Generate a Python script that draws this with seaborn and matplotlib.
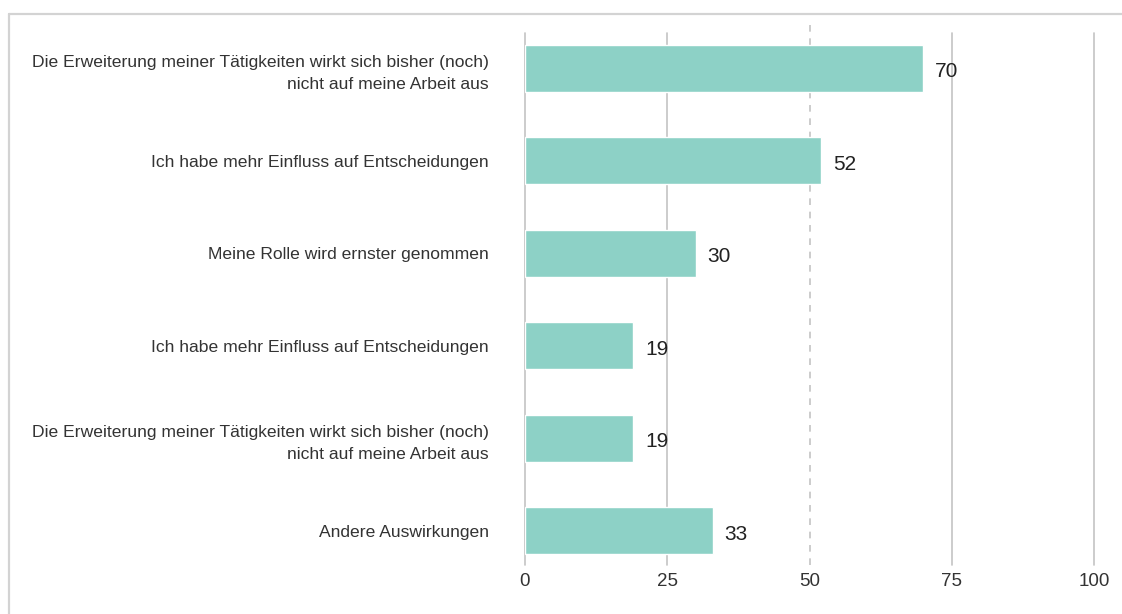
import matplotlib
matplotlib.use("Agg")
import matplotlib.pyplot as plt
import matplotlib.transforms as mtransforms
from matplotlib.lines import Line2D
import seaborn as sns
import pandas as pd

categories = [
    "Die Erweiterung meiner Tätigkeiten wirkt sich bisher (noch)\nnicht auf meine Arbeit aus",
    "Ich habe mehr Einfluss auf Entscheidungen",
    "Meine Rolle wird ernster genommen",
    "Ich habe mehr Einfluss auf Entscheidungen",
    "Die Erweiterung meiner Tätigkeiten wirkt sich bisher (noch)\nnicht auf meine Arbeit aus",
    "Andere Auswirkungen",
]
values = [70, 52, 30, 19, 19, 33]
xticks = [0, 25, 50, 75, 100]

sns.set_theme(style="white")
plt.rcParams["font.family"] = ["Liberation Sans", "DejaVu Sans"]

df = pd.DataFrame({"pos": [str(i) for i in range(len(values))], "value": values})

fig = plt.figure(figsize=(11.22, 6.14), dpi=100)
ax = fig.add_axes([525 / 1122, 1 - 565 / 614, 569 / 1122, 532 / 614])

sns.barplot(data=df, x="value", y="pos", orient="h", color="#8dd1c6",
            saturation=1, width=0.51, ax=ax, zorder=3)

ax.set_xlim(0, 100)
ax.set_ylim(5.37, -0.38)
ax.set_xticks(xticks)
ax.set_xticklabels([str(t) for t in xticks], fontsize=13.5, color="#333333")
ax.set_yticks(range(len(categories)))
ax.set_yticklabels(categories, fontsize=12.6, color="#333333", linespacing=1.6)
ax.tick_params(axis="x", length=0, pad=6)
ax.tick_params(axis="y", length=0, pad=26)
ax.set_xlabel("")
ax.set_ylabel("")
for s in ax.spines.values():
    s.set_visible(False)
ax.grid(False)

trans = mtransforms.blended_transform_factory(ax.transData, ax.transAxes)
for t in xticks:
    if t == 50:
        ax.plot([t, t], [0, 1.021], transform=trans, color="#c4c4c4", lw=1.2,
                linestyle=(0, (4, 4)), clip_on=False, zorder=1)
    else:
        ax.plot([t, t], [0, 1], transform=trans, color="#c4c4c4", lw=1.2,
                clip_on=False, zorder=1)

for i, v in enumerate(values):
    ax.annotate(str(v), xy=(v, i), xytext=(8.5, -2.5), textcoords="offset points",
                ha="left", va="center", fontsize=15, color="#222222", zorder=4)

# figure border (top and left)
fig.add_artist(Line2D([9 / 1122, 1], [1 - 14 / 614, 1 - 14 / 614], color="#d3d3d3", lw=1.6))
fig.add_artist(Line2D([9 / 1122, 9 / 1122], [0, 1 - 14 / 614], color="#d3d3d3", lw=1.6))

fig.savefig("out.png", dpi=100, facecolor="white")
